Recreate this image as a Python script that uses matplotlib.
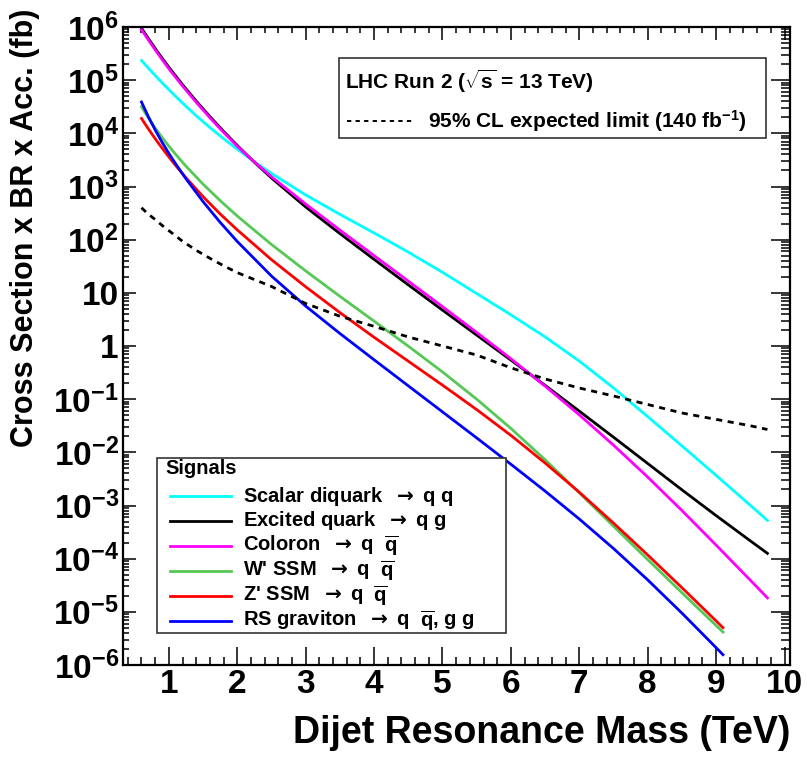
import matplotlib
matplotlib.use('Agg')
import numpy as np
import matplotlib.pyplot as plt
from matplotlib.lines import Line2D
from matplotlib.patches import Rectangle
from matplotlib.ticker import FixedLocator, FixedFormatter, MultipleLocator, LogLocator, NullFormatter

plt.rcParams['font.family'] = ['Liberation Sans', 'DejaVu Sans']
plt.rcParams['font.weight'] = 'bold'
plt.rcParams['mathtext.fontset'] = 'custom'
plt.rcParams['mathtext.rm'] = 'Liberation Sans:bold'
plt.rcParams['mathtext.bf'] = 'Liberation Sans:bold'
plt.rcParams['mathtext.it'] = 'Liberation Sans:bold'
plt.rcParams['mathtext.sf'] = 'DejaVu Sans'
plt.rcParams['mathtext.default'] = 'rm'

# masas (TeV)
masa_ancha = [0.6, 0.7, 0.8, 0.9, 1.0, 1.2, 1.4, 1.6, 1.8, 2.0, 2.25, 2.5, 3.0, 3.5, 4.0,
              4.5, 5.0, 5.5, 6.0, 6.5, 7.0, 7.5, 8.0, 8.5, 9.0, 9.5, 9.75]
masa_corta = [0.6, 0.7, 0.8, 0.9, 1.0, 1.1, 1.25, 1.5, 1.75, 2.0, 2.5, 3.0, 3.5, 4.0,
              4.5, 5.0, 5.5, 6.0, 6.5, 7.0, 7.5, 8.0, 8.5, 9.0, 9.1]

diquark = [5.37, 5.227, 5.088, 4.953, 4.821, 4.569, 4.331, 4.109, 3.899, 3.701, 3.466,
           3.246, 2.841, 2.476, 2.126, 1.766, 1.386, 0.986, 0.586, 0.171, -0.284, -0.789,
           -1.329, -1.879, -2.434, -2.997, -3.28]
excited = [5.98, 5.785, 5.597, 5.417, 5.244, 4.916, 4.608, 4.316, 4.038, 3.772, 3.457,
           3.16, 2.615, 2.115, 1.63, 1.15, 0.675, 0.205, -0.265, -0.74, -1.225, -1.715,
           -2.21, -2.705, -3.19, -3.665, -3.9]
coloron = [5.95, 5.757, 5.571, 5.39, 5.215, 4.89, 4.584, 4.294, 4.018, 3.758, 3.462,
           3.185, 2.67, 2.18, 1.70, 1.22, 0.74, 0.255, -0.24, -0.755, -1.295, -1.865,
           -2.465, -3.095, -3.745, -4.405, -4.738]
limite = [2.6, 2.48, 2.38, 2.27, 2.17, 1.97, 1.8, 1.65, 1.51, 1.38, 1.25, 1.12, 0.8, 0.56,
          0.37, 0.17, 0.0, -0.17, -0.41, -0.62, -0.79, -0.94, -1.1, -1.26, -1.38, -1.5,
          -1.57]
wprime = [4.50, 4.29, 4.10, 3.925, 3.76, 3.604, 3.382, 3.045, 2.735, 2.445, 1.91, 1.4125,
          0.935, 0.4675, -0.0025, -0.4875, -1.0, -1.55, -2.14, -2.76, -3.39, -4.0175,
          -4.64, -5.2575, -5.3805]
zprime = [4.28, 4.085, 3.90, 3.724, 3.556, 3.395, 3.164, 2.809, 2.484, 2.184, 1.624, 1.114,
          0.629, 0.164, -0.286, -0.736, -1.196, -1.681, -2.201, -2.751, -3.331, -3.931,
          -4.546, -5.171, -5.298]
graviton = [4.59, 4.315, 4.065, 3.835, 3.623, 3.425, 3.146, 2.716, 2.326, 1.966, 1.316,
            0.751, 0.236, -0.259, -0.749, -1.239, -1.729, -2.224, -2.729, -3.254, -3.809,
            -4.399, -5.024, -5.674, -5.806]

etiquetas = [r'Scalar diquark  $\mathsf{\rightarrow}$ q q',
             r'Excited quark  $\mathsf{\rightarrow}$ q g',
             r'Coloron  $\mathsf{\rightarrow}$ q  $\overline{q}$',
             r"W' SSM  $\mathsf{\rightarrow}$ q  $\overline{q}$",
             r"Z' SSM  $\mathsf{\rightarrow}$ q  $\overline{q}$",
             r'RS graviton  $\mathsf{\rightarrow}$ q  $\overline{q}$, g g']
colores = ['#00ffff', 'black', '#ff00ff', '#55c855', '#ff0000', '#0000ff']

x_ticks = [1, 2, 3, 4, 5, 6, 7, 8, 9, 10]
y_ticks = [1e-6, 1e-5, 1e-4, 1e-3, 1e-2, 1e-1, 1, 10, 1e2, 1e3, 1e4, 1e5, 1e6]
y_labels = [r'$10^{-6}$', r'$10^{-5}$', r'$10^{-4}$', r'$10^{-3}$', r'$10^{-2}$',
            r'$10^{-1}$', '1', '10', r'$10^{2}$', r'$10^{3}$', r'$10^{4}$', r'$10^{5}$',
            r'$10^{6}$']

W, H = 807, 758
def fx(px):
    return px / W
def fy(py):
    return 1 - py / H

fig = plt.figure(figsize=(W / 100, H / 100), dpi=100)
ax = fig.add_axes([fx(123), fy(665), fx(790) - fx(123), fy(27) - fy(665)])

curvas = [(masa_ancha, diquark), (masa_ancha, excited), (masa_ancha, coloron),
          (masa_corta, wprime), (masa_corta, zprime), (masa_corta, graviton)]
for (m, s), c in zip(curvas, colores):
    ax.plot(m, np.power(10.0, s), color=c, lw=2.0)
ax.plot(masa_ancha, np.power(10.0, limite), color='black', lw=2.0, ls=(0, (2.2, 2.0)))

ax.set_yscale('log')
ax.set_xlim(0.33, 10.08)
ax.set_ylim(1e-6, 1e6)

ax.xaxis.set_major_locator(FixedLocator(x_ticks))
ax.xaxis.set_major_formatter(FixedFormatter([str(v) for v in x_ticks]))
ax.xaxis.set_minor_locator(MultipleLocator(0.2))
ax.yaxis.set_major_locator(FixedLocator(y_ticks))
ax.yaxis.set_major_formatter(FixedFormatter(y_labels))
ax.yaxis.set_minor_locator(LogLocator(base=10, subs=range(2, 10), numticks=100))
ax.yaxis.set_minor_formatter(NullFormatter())

ax.tick_params(which='both', direction='in', top=True, right=True, width=1.1)
ax.tick_params(axis='x', which='major', labelsize=24, pad=3)
ax.tick_params(axis='y', which='major', labelsize=24, pad=3)
for sp in ax.spines.values():
    sp.set_linewidth(1.6)

for t in ax.xaxis.get_major_ticks():
    t.tick1line.set_markersize(13)
    t.tick2line.set_markersize(9.4)
for t in ax.xaxis.get_minor_ticks():
    t.tick1line.set_markersize(5.8)
    t.tick2line.set_markersize(4.3)
for t in ax.yaxis.get_major_ticks():
    t.tick1line.set_markersize(9.4)
    t.tick2line.set_markersize(13.7)
for t in ax.yaxis.get_minor_ticks():
    t.tick1line.set_markersize(4.3)
    t.tick2line.set_markersize(6.5)

fig.text(fx(790), fy(733), 'Dijet Resonance Mass (TeV)', ha='right', va='center', fontsize=27)
fig.text(fx(25), fy(228), 'Cross Section x BR x Acc. (fb)', rotation=90,
         ha='center', va='center', fontsize=22)

# caja de arriba
fig.add_artist(Rectangle((fx(339), fy(138)), fx(766) - fx(339), fy(58) - fy(138),
                         transform=fig.transFigure, facecolor='white', edgecolor='#333333',
                         lw=1.2, zorder=5))
fig.text(fx(345), fy(81), r'LHC Run 2 ($\sqrt{s}$ = 13 TeV)', ha='left', va='center',
         fontsize=15, zorder=6)
fig.add_artist(Line2D([fx(347), fx(415)], [fy(121), fy(121)], transform=fig.transFigure,
                      color='black', lw=1.4, ls=(0, (2.2, 2.2)), zorder=6))
fig.text(fx(428), fy(121), r'95% CL expected limit (140 fb$^{-1}$)', ha='left', va='center',
         fontsize=15, zorder=6)

# caja de senales
fig.add_artist(Rectangle((fx(157), fy(633)), fx(506) - fx(157), fy(458) - fy(633),
                         transform=fig.transFigure, facecolor='white', edgecolor='#333333',
                         lw=1.2, zorder=5))
fig.text(fx(165), fy(469), 'Signals', ha='left', va='center', fontsize=14.5, zorder=6)
filas = [496, 520.5, 545.5, 571, 596, 621]
for py, lab, c in zip(filas, etiquetas, colores):
    fig.add_artist(Line2D([fx(170), fx(231)], [fy(py), fy(py)], transform=fig.transFigure,
                          color=c, lw=2.0, zorder=6))
    fig.text(fx(243), fy(py), lab, ha='left', va='center', fontsize=14.5, zorder=6)

fig.savefig('out.png', dpi=100)
